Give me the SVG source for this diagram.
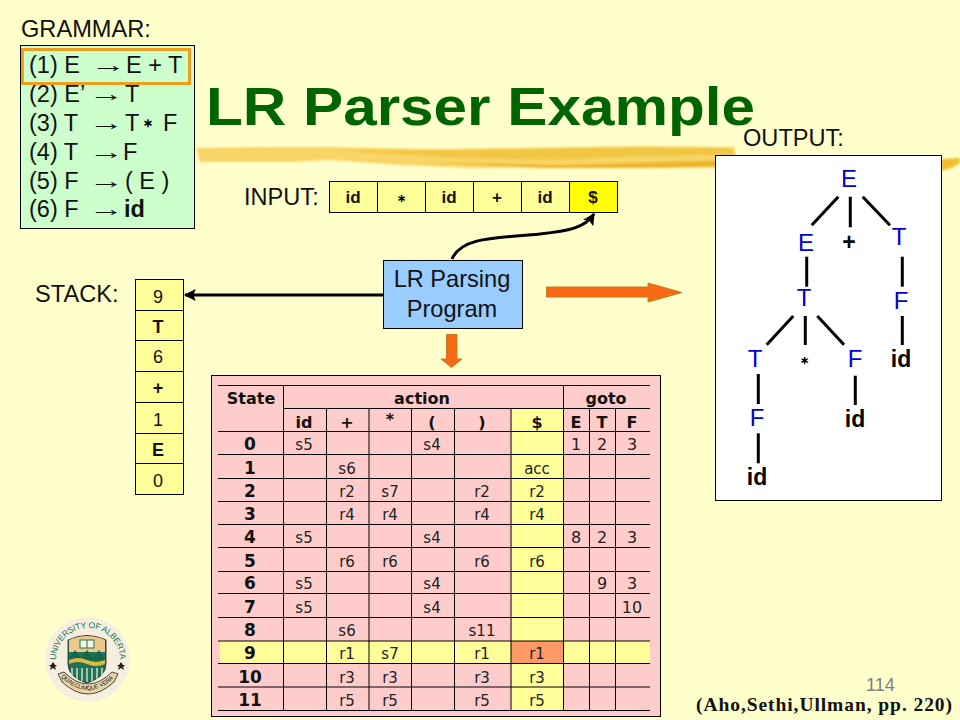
<svg xmlns="http://www.w3.org/2000/svg" width="960" height="720" viewBox="0 0 960 720">
<defs>
<style>
text{font-family:"Liberation Sans",Arial,sans-serif;fill:#111}
.lab{font-size:23.6px}
.c{text-anchor:middle}
.b{font-weight:bold}
.cell{fill:#ffff99;stroke:#000;stroke-width:1}
.g{font-size:23.5px}
.arr{font-size:22px}
.ast{font-weight:bold;font-size:11px;text-anchor:middle;fill:#000}
.sm{font-size:18px}
.inp{font-size:17px;font-weight:bold}
.tt text{font-family:"DejaVu Sans",Verdana,sans-serif;font-size:15px;text-anchor:middle;fill:#222}
.tt .h{font-size:16px;font-weight:bold;fill:#111}
.tt .s{font-size:17px;font-weight:bold;fill:#111}
.tt .d{font-size:16px}
.tl line{stroke:#000;stroke-width:1}
.nt{font-size:24px;fill:#0000cc;text-anchor:middle}
.tm{font-size:23px;font-weight:bold;fill:#000;text-anchor:middle}
.tree line{stroke:#000;stroke-width:3}
.conn{fill:none;stroke:#000;stroke-width:3}
.fat{fill:#f56a12;stroke:#c87a20;stroke-width:1}
</style>
<filter id="soft" x="-2%" y="-30%" width="104%" height="160%"><feGaussianBlur stdDeviation="0.9"/></filter>
<marker id="ah" viewBox="0 0 10 10" refX="9" refY="5" markerWidth="4.500" markerHeight="4" orient="auto-start-reverse" markerUnits="strokeWidth"><path d="M0 0L10 5L0 10L2 5Z" fill="#000"/></marker>
<path id="arcTop" d="M56 660A32 32 0 0 1 120 660"/>
<path id="arcBot" d="M60 676Q88 704 116 676"/>
</defs>
<rect width="960" height="720" fill="#ffffcc"/>
<g id="brush" filter="url(#soft)">
<path d="M196 148L260 147L330 147L430 149L520 148L640 146L735 147L735 166L640 168L560 167L470 168L400 165L330 160L290 162L200 162Z" fill="#f7d566"/>
<path d="M330 150L470 150L560 148L730 148L735 155L640 156L560 160L460 158Z" fill="#eeb92a" opacity=".55"/>
<path d="M420 162L560 165L730 160L735 167L640 168L540 168Z" fill="#f0b429"/>
<path d="M941 159L960 158L960 163L952 168L941 171Z" fill="#f0c030"/>
</g>
<g id="title"><text x="206" y="125" font-size="54" font-weight="bold" style="fill:#006400" textLength="549" lengthAdjust="spacingAndGlyphs">LR Parser Example</text></g>
<g id="grammar">
<text x="21" y="36.500" class="lab">GRAMMAR:</text>
<rect x="20.500" y="45.500" width="174" height="183" fill="#ccffcc" stroke="#000"/>
<text x="29" y="73" class="g">(1) E<tspan x="126">E + T</tspan></text>
<text x="29" y="102" class="g">(2) E’<tspan x="125">T</tspan></text>
<text x="29" y="131" class="g">(3) T<tspan x="125">T</tspan><tspan x="163">F</tspan></text>
<text x="29" y="160" class="g">(4) T<tspan x="123">F</tspan></text>
<text x="29" y="189" class="g">(5) F<tspan x="125">( E )</tspan></text>
<text x="29" y="217" class="g">(6) F<tspan x="124" class="b">id</tspan></text>
<text class="arr" transform="translate(91 72) scale(1.6 1)">→</text>
<text class="arr" transform="translate(89 101) scale(1.6 1)">→</text>
<text class="arr" transform="translate(89 130) scale(1.6 1)">→</text>
<text class="arr" transform="translate(89 159) scale(1.6 1)">→</text>
<text class="arr" transform="translate(89 188) scale(1.6 1)">→</text>
<text class="arr" transform="translate(89 216) scale(1.6 1)">→</text>
<text x="148" y="127" class="ast" style="font-size:12px">∗</text>
<rect x="22.500" y="49.500" width="167" height="34" fill="none" stroke="#ee9e1a" stroke-width="3"/>
</g>
<g id="input">
<text x="244" y="205" class="lab">INPUT:</text>
<rect class="cell" x="329.500" y="181.500" width="48" height="31"/>
<rect class="cell" x="377.500" y="181.500" width="48" height="31"/>
<rect class="cell" x="425.500" y="181.500" width="48" height="31"/>
<rect class="cell" x="473.500" y="181.500" width="48" height="31"/>
<rect class="cell" x="521.500" y="181.500" width="48" height="31"/>
<rect class="cell" x="569.500" y="181.500" width="48" height="31" style="fill:#ffff00"/>
<text class="inp c" x="353" y="203">id</text>
<text class="ast" x="401" y="202">∗</text>
<text class="inp c" x="449" y="203">id</text>
<text class="inp c" x="497" y="203">+</text>
<text class="inp c" x="545" y="203">id</text>
<text class="inp c" x="593" y="203">$</text>
</g>
<g id="stack">
<text x="35" y="302" class="lab">STACK:</text>
<rect class="cell" x="135.500" y="279.500" width="48" height="31"/>
<rect class="cell" x="135.500" y="310.500" width="48" height="30"/>
<rect class="cell" x="135.500" y="340.500" width="48" height="31"/>
<rect class="cell" x="135.500" y="371.500" width="48" height="31"/>
<rect class="cell" x="135.500" y="402.500" width="48" height="31"/>
<rect class="cell" x="135.500" y="433.500" width="48" height="30"/>
<rect class="cell" x="135.500" y="463.500" width="48" height="31"/>
<text class="sm c" x="158" y="303">9</text>
<text class="sm c b" x="158" y="333">T</text>
<text class="sm c" x="158" y="363">6</text>
<text class="sm c b" x="158" y="394">+</text>
<text class="sm c" x="158" y="426">1</text>
<text class="sm c b" x="158" y="456">E</text>
<text class="sm c" x="158" y="487">0</text>
</g>
<g id="program">
<rect x="383.500" y="260.500" width="139" height="68" fill="#99ccff" stroke="#000"/>
<text class="lab c" x="452" y="287">LR Parsing</text>
<text class="lab c" x="452" y="317">Program</text>
</g>
<g id="connectors">
<line class="conn" x1="383" y1="295" x2="185" y2="295" marker-end="url(#ah)"/>
<path class="conn" d="M452 259C462 236 500 238 540 234C568 231 585 228 594 214" marker-end="url(#ah)"/>
<path class="fat" d="M546.500 287H648V283L682 292.500L648 302V297H546.500Z"/>
<path class="fat" d="M446.500 334.500H457V359H462L451.500 367.500L441 359H446.500Z"/>
</g>
<g id="table" class="tt">
<rect x="211.500" y="375.500" width="449" height="341" fill="#ffcccc" stroke="#000"/>
<rect x="511" y="408" width="52" height="302" fill="#ffff99"/>
<rect x="220" y="641" width="430" height="22" fill="#ffff99"/>
<rect x="511" y="641" width="52" height="22" fill="#ff9966"/>
<g class="tl">
<line x1="218" y1="385.500" x2="650" y2="385.500"/>
<line x1="283" y1="408.500" x2="650" y2="408.500"/>
<line x1="218" y1="431.500" x2="650" y2="431.500"/>
<line x1="218" y1="454.500" x2="650" y2="454.500"/>
<line x1="218" y1="478.500" x2="650" y2="478.500"/>
<line x1="218" y1="501.500" x2="650" y2="501.500"/>
<line x1="218" y1="524.500" x2="650" y2="524.500"/>
<line x1="218" y1="547.500" x2="650" y2="547.500"/>
<line x1="218" y1="571.500" x2="650" y2="571.500"/>
<line x1="218" y1="593.500" x2="650" y2="593.500"/>
<line x1="218" y1="617.500" x2="650" y2="617.500"/>
<line x1="218" y1="641" x2="650" y2="641"/>
<line x1="218" y1="663.500" x2="650" y2="663.500"/>
<line x1="218" y1="687" x2="650" y2="687"/>
<line x1="218" y1="710.500" x2="650" y2="710.500"/>
<line x1="283.500" y1="385" x2="283.500" y2="710"/>
<line x1="326.500" y1="408" x2="326.500" y2="710"/>
<line x1="369" y1="408" x2="369" y2="710"/>
<line x1="411.500" y1="408" x2="411.500" y2="710"/>
<line x1="454.500" y1="408" x2="454.500" y2="710"/>
<line x1="511" y1="408" x2="511" y2="710"/>
<line x1="563.500" y1="385" x2="563.500" y2="710"/>
<line x1="589.500" y1="408" x2="589.500" y2="710"/>
<line x1="615.500" y1="408" x2="615.500" y2="710"/>
</g>
<text class="h" x="251" y="404">State</text><text class="h" x="422" y="404">action</text><text class="h" x="606" y="404">goto</text>
<text class="h" x="304" y="428">id</text><text class="h" x="347" y="428">+</text><text class="h" x="390" y="425">*</text><text class="h" x="432" y="428">(</text><text class="h" x="482" y="428">)</text><text class="h" x="537" y="428">$</text><text class="h" x="576" y="428">E</text><text class="h" x="602" y="428">T</text><text class="h" x="632" y="428">F</text>
<text class="s" x="250" y="450">0</text><text x="304" y="450">s5</text><text x="432" y="450">s4</text><text class="d" x="576" y="450">1</text><text class="d" x="602" y="450">2</text><text class="d" x="632" y="450">3</text>
<text class="s" x="250" y="474">1</text><text x="347" y="474">s6</text><text x="537" y="474">acc</text>
<text class="s" x="250" y="497">2</text><text x="347" y="497">r2</text><text x="390" y="497">s7</text><text x="482" y="497">r2</text><text x="537" y="497">r2</text>
<text class="s" x="250" y="520">3</text><text x="347" y="520">r4</text><text x="390" y="520">r4</text><text x="482" y="520">r4</text><text x="537" y="520">r4</text>
<text class="s" x="250" y="543">4</text><text x="304" y="543">s5</text><text x="432" y="543">s4</text><text class="d" x="576" y="543">8</text><text class="d" x="602" y="543">2</text><text class="d" x="632" y="543">3</text>
<text class="s" x="250" y="567">5</text><text x="347" y="567">r6</text><text x="390" y="567">r6</text><text x="482" y="567">r6</text><text x="537" y="567">r6</text>
<text class="s" x="250" y="589">6</text><text x="304" y="589">s5</text><text x="432" y="589">s4</text><text class="d" x="602" y="589">9</text><text class="d" x="632" y="589">3</text>
<text class="s" x="250" y="613">7</text><text x="304" y="613">s5</text><text x="432" y="613">s4</text><text class="d" x="632" y="613">10</text>
<text class="s" x="250" y="636">8</text><text x="347" y="636">s6</text><text x="482" y="636">s11</text>
<text class="s" x="250" y="659">9</text><text x="347" y="659">r1</text><text x="390" y="659">s7</text><text x="482" y="659">r1</text><text x="537" y="659">r1</text>
<text class="s" x="250" y="683">10</text><text x="347" y="683">r3</text><text x="390" y="683">r3</text><text x="482" y="683">r3</text><text x="537" y="683">r3</text>
<text class="s" x="250" y="706">11</text><text x="347" y="706">r5</text><text x="390" y="706">r5</text><text x="482" y="706">r5</text><text x="537" y="706">r5</text>
</g>
<g id="output">
<text x="743" y="146" class="lab">OUTPUT:</text>
<rect x="715.500" y="155.500" width="226" height="345" fill="#fff" stroke="#000"/>
<g class="tree">
<line x1="838.300" y1="196.700" x2="811.700" y2="225.300"/>
<line x1="850.300" y1="196.700" x2="850.300" y2="227.300"/>
<line x1="862.700" y1="196.700" x2="890" y2="225.300"/>
<line x1="806.700" y1="256.700" x2="806.700" y2="286.700"/>
<line x1="793.300" y1="316" x2="766.700" y2="344.700"/>
<line x1="805.300" y1="316" x2="805.300" y2="345"/>
<line x1="817.300" y1="316" x2="844" y2="344.700"/>
<line x1="902.300" y1="256.700" x2="902.300" y2="286.700"/>
<line x1="902.300" y1="316" x2="902.300" y2="345"/>
<line x1="758.300" y1="374" x2="758.300" y2="404"/>
<line x1="758.300" y1="433.300" x2="758.300" y2="463.300"/>
<line x1="855.300" y1="375.700" x2="855.300" y2="405"/>
</g>
<text class="nt" x="849" y="187">E</text>
<text class="nt" x="806" y="251">E</text>
<text class="tm" x="849" y="250">+</text>
<text class="nt" x="899" y="245">T</text>
<text class="nt" x="804" y="306">T</text>
<text class="nt" x="901" y="309">F</text>
<text class="nt" x="755" y="367">T</text>
<text class="ast" x="804" y="364">∗</text>
<text class="nt" x="855" y="367">F</text>
<text class="tm" x="901" y="367">id</text>
<text class="nt" x="757" y="426">F</text>
<text class="tm" x="855" y="427">id</text>
<text class="tm" x="757" y="485">id</text>
</g>
<g id="crest">
<circle cx="87.500" cy="659.500" r="42.500" fill="#f6efdf"/>
<text style="font-size:8.500px;fill:#1e7358"><textPath href="#arcTop" textLength="100">UNIVERSITY OF ALBERTA</textPath></text>
<path d="M68 640Q87 631 106 640V664Q106 677 87 683Q68 677 68 664Z" fill="#1e7358" stroke="#222" stroke-width=".8"/>
<path d="M69 640Q87 632 105 640V652L69 652Z" fill="#ebc98c"/>
<rect x="80" y="640" width="14" height="8" fill="#f7f3e3" stroke="#1e7358" stroke-width="1"/>
<path d="M87 640V648" stroke="#1e7358"/>
<path d="M69 660L75 650L81 658L87 650L93 658L99 650L105 660Z" fill="#12664d"/>
<path d="M69 660Q78 656 87 660T105 660V664Q96 668 87 664T69 664Z" fill="#e2b93f"/>
<path d="M72 668V676M77 668V679M82 668V681M87 668V682M92 668V681M97 668V679M102 668V676" stroke="#cfe0c4" stroke-width="1.500"/>
<path d="M58 674L64 672Q88 696 112 672L118 674L114 682Q88 706 62 682Z" fill="#e8d3a6" stroke="#222" stroke-width=".8"/>
<text style="font-size:6px;fill:#222"><textPath href="#arcBot" textLength="60" startOffset="1">QUAECUMQUE VERA</textPath></text>
<path d="M53 662L55 665L57 665L55 667L56 670L53 668L50 670L51 667L49 665L51 665Z" fill="#222"/>
<path d="M121 662L123 665L125 665L123 667L124 670L121 668L118 670L119 667L117 665L119 665Z" fill="#222"/>
</g>
<g id="footer">
<text x="866" y="691" font-size="18" style="fill:#808080">114</text>
<text x="696" y="711" font-size="19.500" font-weight="bold" style="font-family:'Liberation Serif',serif;fill:#111" textLength="256">(Aho,Sethi,Ullman, pp. 220)</text>
</g>
</svg>
